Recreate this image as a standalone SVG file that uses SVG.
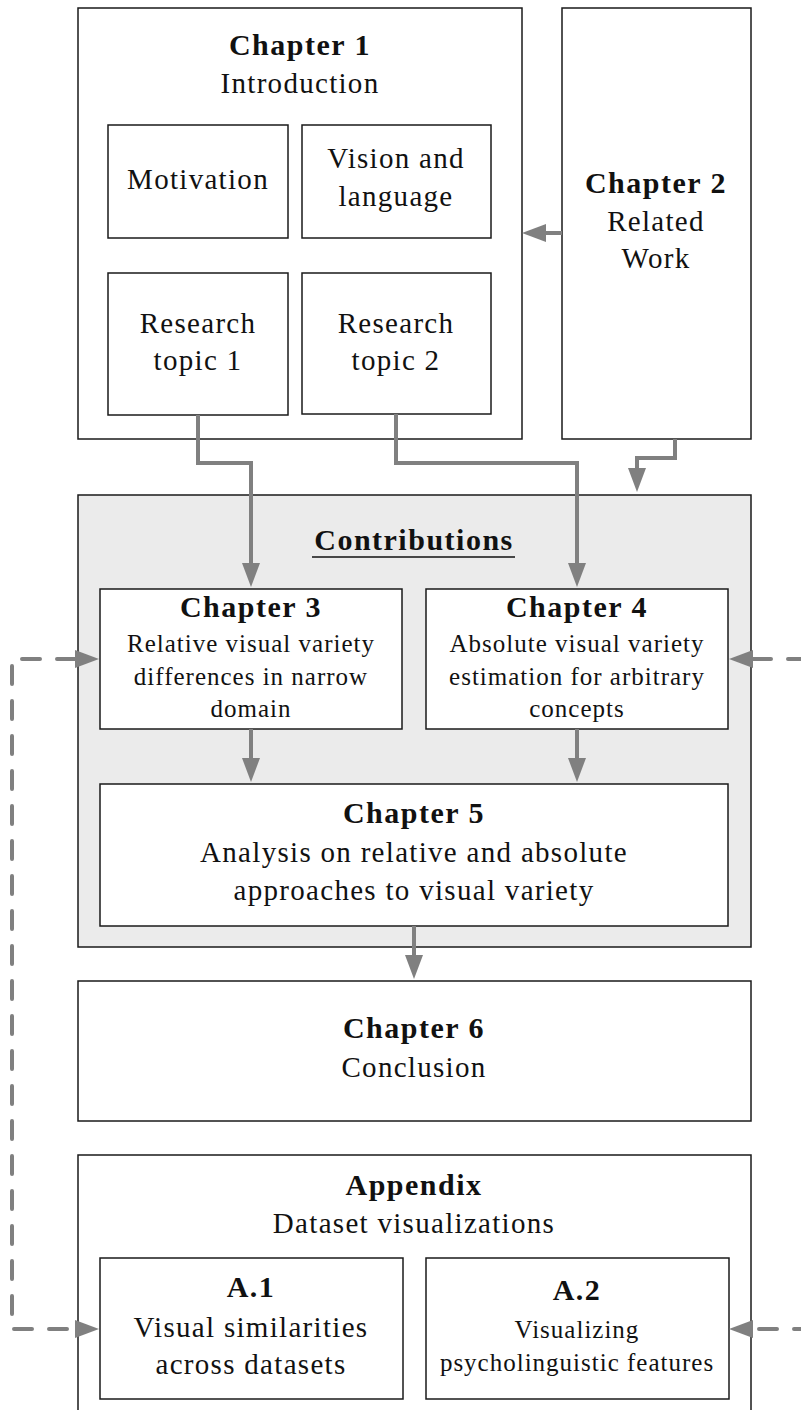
<svg xmlns="http://www.w3.org/2000/svg" width="801" height="1410" viewBox="0 0 801 1410">
<style>
  .box { fill: #ffffff; stroke: #1a1a1a; stroke-width: 1.5; }
  .grey { fill: #ebebeb; stroke: #1a1a1a; stroke-width: 1.5; }
  text { font-family: "Liberation Serif", "Times New Roman", serif; fill: #111; text-anchor: middle; }
  .t { font-size: 30px; font-weight: bold; letter-spacing: 1.5px; }
  .s { font-size: 29px; letter-spacing: 1.3px; }
  .m { font-size: 25px; letter-spacing: 1px; }
  .c { fill: none; stroke: #808080; stroke-width: 4; }
  .d { fill: none; stroke: #808080; stroke-width: 4; stroke-dasharray: 18 17; stroke-linecap: round; }
</style>
<defs>
  <marker id="ah" viewBox="0 0 24 18" markerUnits="userSpaceOnUse" markerWidth="24" markerHeight="18" refX="0" refY="9" orient="auto-start-reverse">
    <path d="M0,0 L24,9 L0,18 z" fill="#808080"/>
  </marker>
</defs>

<g id="contributions">
  <rect class="grey" x="78" y="495" width="673" height="452"/>
  <text class="t" x="414" y="550">Contributions</text>
  <line x1="312" y1="557" x2="515" y2="557" stroke="#111" stroke-width="1.6"/>
</g>

<g id="chapter1">
  <rect class="box" x="78" y="8" width="444" height="431"/>
  <text class="t" x="300" y="55">Chapter 1</text>
  <text class="s" x="300" y="93">Introduction</text>
</g>
<g id="motivation">
  <rect class="box" x="108" y="125" width="180" height="113"/>
  <text class="s" x="198" y="189">Motivation</text>
</g>
<g id="vision">
  <rect class="box" x="302" y="125" width="189" height="113"/>
  <text class="s" x="396" y="168">Vision and</text>
  <text class="s" x="396" y="206">language</text>
</g>
<g id="topic1">
  <rect class="box" x="108" y="273" width="180" height="142"/>
  <text class="s" x="198" y="333">Research</text>
  <text class="s" x="198" y="370">topic 1</text>
</g>
<g id="topic2">
  <rect class="box" x="302" y="273" width="189" height="141"/>
  <text class="s" x="396" y="333">Research</text>
  <text class="s" x="396" y="370">topic 2</text>
</g>
<g id="chapter2">
  <rect class="box" x="562" y="8" width="189" height="431"/>
  <text class="t" x="656" y="193">Chapter 2</text>
  <text class="s" x="656" y="231">Related</text>
  <text class="s" x="656" y="268">Work</text>
</g>
<g id="chapter3">
  <rect class="box" x="100" y="589" width="302" height="140"/>
  <text class="t" x="251" y="617">Chapter 3</text>
  <text class="m" x="251" y="652">Relative visual variety</text>
  <text class="m" x="251" y="685">differences in narrow</text>
  <text class="m" x="251" y="717">domain</text>
</g>
<g id="chapter4">
  <rect class="box" x="426" y="589" width="302" height="140"/>
  <text class="t" x="577" y="617">Chapter 4</text>
  <text class="m" x="577" y="652">Absolute visual variety</text>
  <text class="m" x="577" y="685">estimation for arbitrary</text>
  <text class="m" x="577" y="717">concepts</text>
</g>
<g id="chapter5">
  <rect class="box" x="100" y="784" width="628" height="142"/>
  <text class="t" x="414" y="823">Chapter 5</text>
  <text class="s" x="414" y="862">Analysis on relative and absolute</text>
  <text class="s" x="414" y="900">approaches to visual variety</text>
</g>
<g id="chapter6">
  <rect class="box" x="78" y="981" width="673" height="140"/>
  <text class="t" x="414" y="1038">Chapter 6</text>
  <text class="s" x="414" y="1077">Conclusion</text>
</g>
<g id="appendix">
  <rect class="box" x="78" y="1155" width="673" height="275"/>
  <text class="t" x="414" y="1195">Appendix</text>
  <text class="s" x="414" y="1233">Dataset visualizations</text>
</g>
<g id="a1">
  <rect class="box" x="100" y="1258" width="303" height="141"/>
  <text class="t" x="251" y="1297">A.1</text>
  <text class="s" x="251" y="1337">Visual similarities</text>
  <text class="s" x="251" y="1374">across datasets</text>
</g>
<g id="a2">
  <rect class="box" x="426" y="1258" width="303" height="141"/>
  <text class="t" x="577" y="1300">A.2</text>
  <text class="m" x="577" y="1338">Visualizing</text>
  <text class="m" x="577" y="1371">psycholinguistic features</text>
</g>

<g id="connectors">
  <path class="c" d="M562,233 H546" marker-end="url(#ah)"/>
  <path class="c" d="M675,439 V458 H637 V468" marker-end="url(#ah)"/>
  <path class="c" d="M198,415 V463 H251 V563" marker-end="url(#ah)"/>
  <path class="c" d="M396,414 V463 H577 V563" marker-end="url(#ah)"/>
  <path class="c" d="M251,729 V758" marker-end="url(#ah)"/>
  <path class="c" d="M577,729 V758" marker-end="url(#ah)"/>
  <path class="c" d="M414,926 V955" marker-end="url(#ah)"/>
  <path class="d" d="M75,659 H12 V1329 H75" marker-start="url(#ah)" marker-end="url(#ah)"/>
  <path class="d" d="M753,659 H815 V1329 H753" marker-start="url(#ah)" marker-end="url(#ah)"/>
</g>
</svg>
